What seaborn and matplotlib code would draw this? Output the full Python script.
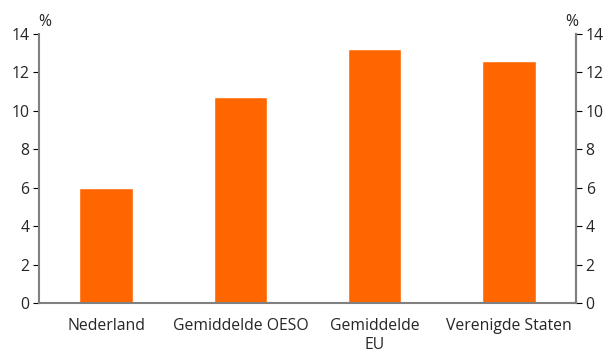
#libraries
import seaborn as sns
import pandas as pd
import matplotlib
matplotlib.use('Agg')
from matplotlib import pyplot as plt
from matplotlib.ticker import FixedLocator

#data
landen=['Nederland','Gemiddelde OESO','Gemiddelde\nEU','Verenigde Staten']
waarden=[6.0,10.7,13.2,12.6]
yticks=[0,2,4,6,8,10,12,14]
df=pd.DataFrame({'land':landen,'waarde':waarden})

sns.set_style('white')
plt.rcParams['font.family']=['Open Sans','DejaVu Sans']
grey='#808080'
fs=11.3

fig=plt.figure(figsize=(6.07,3.49),dpi=100)
ax=fig.add_axes([39/607,1-303/349,(576-39)/607,(303-34)/349])
sns.barplot(data=df,x='land',y='waarde',color='#FF6600',width=0.4,saturation=1,ax=ax)
ax.set(xlabel='',ylabel='')
ax.set_ylim(0,14)
ax.set_xlim(-0.5,len(landen)-0.5)
ax.set_yticks(yticks)
ax.tick_params(axis='y',labelsize=fs,length=4,color='black',width=0.8,pad=3)
ax.tick_params(axis='x',which='major',length=0,labelsize=fs,pad=11)
ax.xaxis.set_minor_locator(FixedLocator([i-0.5 for i in range(len(landen)+1)]))
ax.tick_params(axis='x',which='minor',length=5,color=grey,width=1.5)
for s in ['left','right','bottom']:
    ax.spines[s].set_color(grey)
    ax.spines[s].set_linewidth(1.5)
ax.spines['top'].set_visible(False)

ax2=ax.twinx()
ax2.set_ylim(0,14)
ax2.set_yticks(yticks)
ax2.tick_params(axis='y',labelsize=fs,length=4,color='black',width=0.8,pad=3)
for s in ['top','left','bottom']:
    ax2.spines[s].set_visible(False)
ax2.spines['right'].set_color(grey)
ax2.spines['right'].set_linewidth(1.5)

ax.text(-0.002,1.015,'%',transform=ax.transAxes,ha='left',va='bottom',fontsize=fs)
ax.text(1.005,1.015,'%',transform=ax.transAxes,ha='right',va='bottom',fontsize=fs)

fig.savefig('out.png',dpi=100)
